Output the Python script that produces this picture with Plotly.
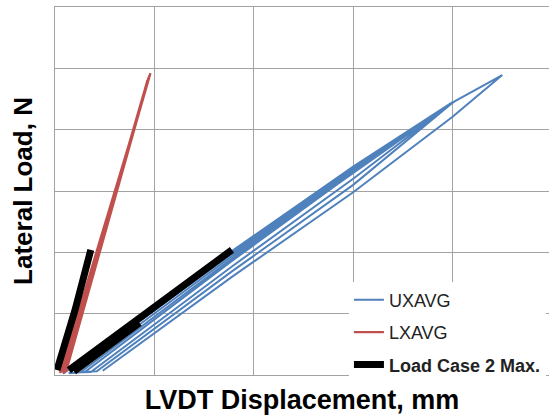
import plotly.graph_objects as go

# 坐标以网格为单位（原图无刻度标签）
# UXAVG: 加载段贴近上沿，卸载段在下方平行排开
ux_x = [0.08, 1.78, 3.00, 4.00, 3.00, 1.78, 0.30,
        0.14, 1.78, 3.00, 4.00, 3.00, 1.78, 0.36,
        0.20, 1.78, 3.00, 4.00, 3.00, 1.78, 0.42,
        0.26, 1.78, 3.00, 4.02, 4.50, 4.00, 3.00, 1.78, 0.48]
ux_y = [0.02, 2.02, 3.40, 4.45, 3.30, 1.86, 0.05,
        0.03, 1.98, 3.36, 4.44, 3.20, 1.77, 0.05,
        0.04, 1.94, 3.33, 4.44, 3.10, 1.69, 0.06,
        0.05, 1.90, 3.30, 4.46, 4.89, 4.21, 2.98, 1.60, 0.07]

# LXAVG
lx_x = [0.05, 0.96, 0.09, 0.94, 0.07, 0.95, 0.11, 0.93, 0.08]
lx_y = [0.03, 4.92, 0.03, 4.84, 0.04, 4.88, 0.05, 4.80, 0.04]

# Load Case 2 Max.（三段，中间断开）
lc_x = [0.02, 0.20, 0.36, None, 0.14, 0.95, 1.78, None, 0.19, 0.85]
lc_y = [0.08, 1.05, 2.04, None, 0.08, 1.05, 2.04, None, 0.06, 0.85]

FONT = 'Arial, Liberation Sans, sans-serif'
GRID = '#a3a3a3'

fig = go.Figure()

fig.add_trace(go.Scatter(
    x=ux_x, y=ux_y, mode='lines', name='UXAVG', legendgroup='a',
    line=dict(color='#4f81bd', width=2),
))
fig.add_trace(go.Scatter(
    x=lx_x, y=lx_y, mode='lines', name='LXAVG', legendgroup='b',
    line=dict(color='#c0504d', width=2.4),
))
fig.add_trace(go.Scatter(
    x=lc_x, y=lc_y, mode='lines', name='<b>Load Case 2 Max.</b>',
    legendgroup='c',
    line=dict(color='black', width=7),
))

fig.update_layout(
    width=549, height=415,
    margin=dict(l=55, r=0, t=7, b=40, autoexpand=False),
    paper_bgcolor='white',
    plot_bgcolor='white',
    font=dict(family=FONT, size=18, color='black'),
    showlegend=True,
    legend=dict(
        x=0.595, y=0.254, xanchor='left', yanchor='top',
        bgcolor='white', borderwidth=0,
        tracegroupgap=6,
        font=dict(size=18, color='#222'),
    ),
)

fig.update_xaxes(
    range=[0, 4.97], dtick=1, showticklabels=False, ticks='',
    showgrid=True, gridcolor=GRID, gridwidth=1, zeroline=False,
    showline=True, linecolor=GRID, linewidth=1, mirror=True,
    automargin=False,
    title=dict(text='<b>LVDT Displacement, mm</b>',
               font=dict(size=27, family=FONT), standoff=21),
)
fig.update_yaxes(
    range=[0, 6], dtick=1, showticklabels=False, ticks='',
    showgrid=True, gridcolor=GRID, gridwidth=1, zeroline=False,
    showline=True, linecolor=GRID, linewidth=1,
    automargin=False,
    title=dict(text='<b>Lateral Load, N</b>',
               font=dict(size=26, family=FONT), standoff=13),
)

# 去掉页面默认的 body 边距
fig.write_html(
    'out.html',
    config={'displayModeBar': False},
    post_script="document.body.style.margin='0';",
)
